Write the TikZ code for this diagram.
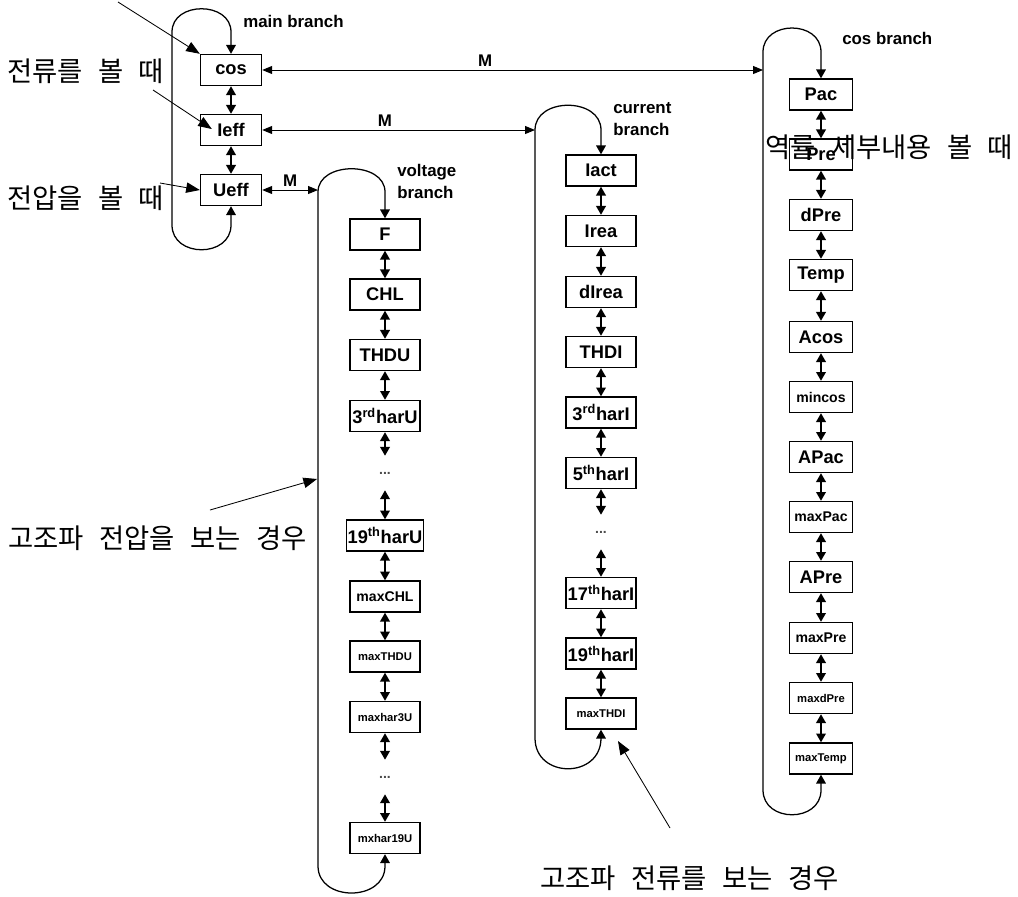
\documentclass[tikz,border=0pt]{standalone}
\usepackage{fontspec}
\setmainfont{Liberation Sans}
\newfontfamily\krfont[WordSpace=2.5]{Noto Sans CJK KR}
\usepackage{tikz}
\usetikzlibrary{arrows.meta, calc}
\newcommand\bigf{\fontsize{13}{15}\selectfont\bfseries}
\newcommand\midf{\fontsize{10}{12}\selectfont\bfseries}
\newcommand\smallf{\fontsize{8}{10}\selectfont\bfseries}
\newcommand\labf{\fontsize{12}{16}\selectfont\bfseries}
\newcommand\krf{\krfont\fontsize{19.5}{22}\selectfont}

\begin{document}
\begin{tikzpicture}[x=0.025cm, y=-0.025cm,
    mbox/.style={draw, line width=1pt, minimum width=1.525cm,
                 minimum height=0.775cm, inner sep=1pt},
    vbox/.style={mbox, minimum width=1.75cm},
    kbox/.style={mbox, minimum width=1.575cm},
    dotsn/.style={minimum height=0.85cm, inner sep=0pt, font=\midf, text=black!70},
    dbl/.style={{Triangle[length=0.22cm,width=0.24cm]}-{Triangle[length=0.22cm,width=0.24cm]},
                line width=1.2pt},
    loopl/.style={dbl, line width=0.9pt},
    harr/.style={{Triangle[length=0.25cm,width=0.2cm]}-{Triangle[length=0.25cm,width=0.2cm]},
                 line width=0.7pt},
    larr/.style={-{Triangle[length=0.34cm,width=0.26cm]}, line width=0.6pt},
    mlab/.style={font=\labf, inner sep=2pt},
    brlab/.style={font=\labf, align=left, anchor=west, inner sep=0pt},
    krlab/.style={font=\krf, anchor=west, inner sep=0pt}
  ]
  \useasboundingbox (0,0) rectangle (1018,896);

  % main branch
  \foreach \n/\t/\y in {mcos/cos/70, mIeff/Ieff/130, mUeff/Ueff/190}
    \node[mbox, font=\bigf] (\n) at (231,\y) {\t};
  \draw[dbl] (mcos.south) -- (mIeff.north);
  \draw[dbl] (mIeff.south) -- (mUeff.north);
  \coordinate (mTR) at (231,32);  \coordinate (mTL) at (172,32);
  \coordinate (mBL) at (172,225); \coordinate (mBR) at (231,225);
  \draw[loopl] (mcos.north) -- (mTR) .. controls +(0,-31) and +(0,-31) .. (mTL)
       -- (mBL) .. controls +(0,33) and +(0,33) .. (mBR) -- (mUeff.south);
  \node[brlab] (lmain) at (243,21) {main branch};

  % voltage branch
  \foreach \n/\t/\y/\f in {vF/F/234.5/\bigf, vCHL/CHL/294.5/\bigf,
      vTHDU/THDU/355/\bigf, vH3/3\textsuperscript{rd}harU/416/\bigf,
      vH19/19\textsuperscript{th}harU/535.5/\bigf, vmCHL/maxCHL/596.5/\midf,
      vmTHDU/maxTHDU/656.5/\smallf, vmH3/maxhar3U/717/\smallf,
      vmH19/mxhar19U/838/\smallf}
    \node[vbox, font=\f] (\n) at (385,\y) {\t};
  \node[dotsn] (vD1) at (385,473) {...};
  \node[dotsn] (vD2) at (385,777) {...};
  \foreach \a/\b in {vF/vCHL, vCHL/vTHDU, vTHDU/vH3, vH3/vD1, vD1/vH19,
      vH19/vmCHL, vmCHL/vmTHDU, vmTHDU/vmH3, vmH3/vD2, vD2/vmH19}
    \draw[dbl] (\a.south) -- (\b.north);
  \coordinate (vTR) at (385,192); \coordinate (vTL) at (318,192);
  \coordinate (vBL) at (318,866); \coordinate (vBR) at (385,866);
  \draw[loopl] (vF.north) -- (vTR) .. controls +(0,-31) and +(0,-31) .. (vTL)
       -- (vBL) .. controls +(0,36) and +(0,36) .. (vBR) -- (vmH19.south);
  \node[brlab] (lvolt) at (397,181.5) {voltage\\branch};

  % current branch
  \foreach \n/\t/\y/\f in {cIact/Iact/170.5/\bigf, cIrea/Irea/231/\bigf,
      cdIrea/dIrea/292/\bigf, cTHDI/THDI/352/\bigf,
      cH3/3\textsuperscript{rd}harI/412.5/\bigf, cH5/5\textsuperscript{th}harI/473/\bigf,
      cH17/17\textsuperscript{th}harI/593/\bigf, cH19/19\textsuperscript{th}harI/653.5/\bigf,
      cmTHDI/maxTHDI/713.5/\smallf}
    \node[vbox, font=\f] (\n) at (601,\y) {\t};
  \node[dotsn] (cD) at (601,532) {...};
  \foreach \a/\b in {cIact/cIrea, cIrea/cdIrea, cdIrea/cTHDI, cTHDI/cH3, cH3/cH5,
      cH5/cD, cD/cH17, cH17/cH19, cH19/cmTHDI}
    \draw[dbl] (\a.south) -- (\b.north);
  \coordinate (cTR) at (601,130); \coordinate (cTL) at (535,130);
  \coordinate (cBL) at (535,738); \coordinate (cBR) at (601,738);
  \draw[loopl] (cIact.north) -- (cTR) .. controls +(0,-33) and +(0,-33) .. (cTL)
       -- (cBL) .. controls +(0,41) and +(0,41) .. (cBR) -- (cmTHDI.south);
  \node[brlab] (lcurr) at (613,119) {current\\branch};

  % cos branch
  \foreach \n/\t/\y/\f in {kPac/Pac/94.5/\bigf, kPre/Pre/154.5/\bigf,
      kdPre/dPre/215/\bigf, kTemp/Temp/275/\bigf, kAcos/Acos/337/\bigf,
      kmcos/mincos/397/\midf, kAPac/APac/457/\bigf, kmPac/maxPac/517/\midf,
      kAPre/APre/577/\bigf, kmPre/maxPre/638/\midf, kmdPre/maxdPre/698/\smallf,
      kmTemp/maxTemp/758.5/\smallf}
    \node[kbox, font=\f] (\n) at (821,\y) {\t};
  \foreach \a/\b in {kPac/kPre, kPre/kdPre, kdPre/kTemp, kTemp/kAcos, kAcos/kmcos,
      kmcos/kAPac, kAPac/kmPac, kmPac/kAPre, kAPre/kmPre, kmPre/kmdPre, kmdPre/kmTemp}
    \draw[dbl] (\a.south) -- (\b.north);
  \coordinate (kTR) at (821,52);  \coordinate (kTL) at (763,52);
  \coordinate (kBL) at (763,790); \coordinate (kBR) at (821,790);
  \draw[loopl] (kPac.north) -- (kTR) .. controls +(0,-32) and +(0,-32) .. (kTL)
       -- (kBL) .. controls +(0,33) and +(0,33) .. (kBR) -- (kmTemp.south);
  \node[brlab] (lcos) at (842,38) {cos branch};

  % links between branches
  \draw[harr] (mcos.east) -- node[mlab, above, pos=0.445] {M} (mcos.east -| kTL);
  \draw[harr] (mIeff.east) -- node[mlab, above, pos=0.45] {M} (mIeff.east -| cTL);
  \draw[harr] (mUeff.east) -- node[mlab, above, pos=0.5] {M} (mUeff.east -| vTL);

  % notes
  \node[krlab] (nI) at (7,71) {전류를 볼 때};
  \node[krlab] (nU) at (7,198) {전압을 볼 때};
  \node[krlab] (nHU) at (8,538) {고조파 전압을 보는 경우};
  \node[krlab] (nHI) at (540,878) {고조파 전류를 보는 경우};
  \node[krlab] (nK) at (765,147) {역률 세부내용 볼 때};
  \coordinate (pCos) at (118,2);
  \coordinate (pIeff) at (153,90);
  \coordinate (pUeff) at (160,183);
  \coordinate (pHU) at (210,510);  \coordinate (qHU) at (317,479);
  \coordinate (pHI) at (670,828);  \coordinate (qHI) at (618,741);
  \draw[larr] (pCos) -- (mcos.north west);
  \draw[larr] (pIeff) -- ($(mIeff.west)+(12,-1)$);
  \draw[larr] (pUeff) -- (mUeff.west);
  \draw[larr] (pHU) -- (qHU);
  \draw[larr] (pHI) -- (qHI);
\end{tikzpicture}
\end{document}
